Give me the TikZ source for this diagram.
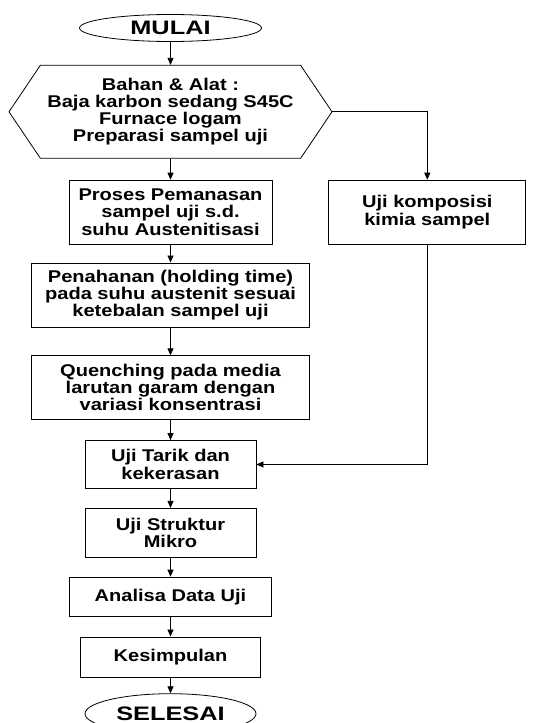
\documentclass[tikz,border=0pt]{standalone}
\usepackage{fontspec}
\setmainfont{Liberation Sans}[FakeStretch=1.18]
\newfontfamily\termfont{Liberation Sans}[FakeStretch=1.3]
\usetikzlibrary{shapes.geometric, shapes.symbols, positioning, arrows.meta}

\begin{document}
\begin{tikzpicture}[
            x=1pt, y=-1pt,
            font=\fontsize{17}{17.2}\selectfont\bfseries,
            process/.style={draw, line width=0.8pt, inner sep=0pt, align=center},
            terminal/.style={draw, ellipse, line width=0.8pt, inner sep=0pt, font=\termfont\fontsize{19.5}{19.5}\selectfont\bfseries},
            arrow/.style={-{Triangle[length=7pt, width=6pt]}, line width=0.8pt},
            node distance=20pt and 56pt
        ]
            \useasboundingbox (0,0) rectangle (534,723);

            % Start and input
            \node[terminal, minimum width=182pt, minimum height=27pt] (mulai) at (170.5,28) {MULAI};
            \node[signal, signal to=west and east, signal pointer angle=112, draw, line width=0.8pt, inner sep=0pt,
                  minimum width=323pt, minimum height=93pt, align=center, below=23pt of mulai] (bahan)
                  {Bahan \& Alat :\\Baja karbon sedang S45C\\Furnace logam\\Preparasi sampel uji};

            % Left column
            \node[process, minimum width=203pt, minimum height=64pt, below=21pt of bahan] (panas) {Proses Pemanasan\\sampel uji s.d.\\suhu Austenitisasi};
            \node[process, minimum width=278pt, minimum height=64pt, below=18pt of panas] (tahan) {Penahanan (holding time)\\pada suhu austenit sesuai\\ketebalan sampel uji};
            \node[process, minimum width=278pt, minimum height=64pt, below=28pt of tahan] (quench) {Quenching pada media\\larutan garam dengan\\variasi konsentrasi};
            \node[process, minimum width=171pt, minimum height=48pt, below=of quench] (tarik) {Uji Tarik dan\\kekerasan};
            \node[process, minimum width=171pt, minimum height=49pt, below=19pt of tarik] (mikro) {Uji Struktur\\Mikro};
            \node[process, minimum width=202pt, minimum height=39pt, below=19pt of mikro] (analisa) {Analisa Data Uji};
            \node[process, minimum width=180pt, minimum height=40pt, below=of analisa] (simpul) {Kesimpulan};
            \node[terminal, minimum width=171pt, minimum height=40pt, below=16pt of simpul] (selesai) {SELESAI};

            % Right column
            \node[process, minimum width=197pt, minimum height=64pt, right=of panas] (kimia) {Uji komposisi\\kimia sampel};

            % Arrows left column
            \draw[arrow] (mulai) -- (bahan);
            \draw[arrow] (bahan) -- (panas);
            \draw[arrow] (panas) -- (tahan);
            \draw[arrow] (tahan) -- (quench);
            \draw[arrow] (quench) -- (tarik);
            \draw[arrow] (tarik) -- (mikro);
            \draw[arrow] (mikro) -- (analisa);
            \draw[arrow] (analisa) -- (simpul);
            \draw[arrow] (simpul) -- (selesai);

            % Arrows right column
            \draw[arrow] (bahan.east) -| (kimia.north);
            \draw[arrow] (kimia.south) |- (tarik.east);

        \end{tikzpicture}
\end{document}
